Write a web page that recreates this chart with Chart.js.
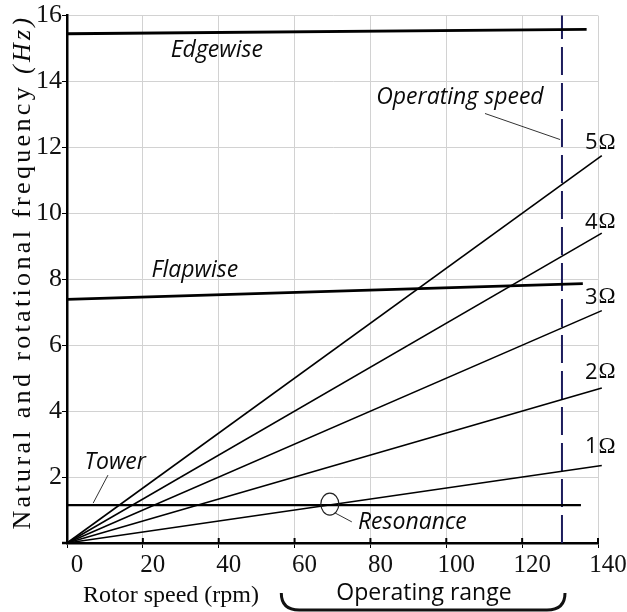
<!DOCTYPE html>
<html>
<head>
<meta charset="utf-8">
<script src="https://cdn.jsdelivr.net/npm/chart.js@4"></script>
<style>
  body { margin: 0; background: #fff; }
  .box { width: 627px; height: 612px; }
</style>
</head>
<body>
<div class="box"><canvas id="myChart"></canvas></div>
<script>
// valores
const rotorSpeed = [0, 141];
const freq1P = [0, 2.35];
const freq2P = [0, 4.7];
const freq3P = [0, 7.05];
const freq4P = [0, 9.4];
const freq5P = [0, 11.75];
const harmonicLabels = ["1", "2", "3", "4", "5"];

const edgewiseSpeed = [0, 137];
const edgewiseFreq = [15.45, 15.58];
const flapwiseSpeed = [0, 136];
const flapwiseFreq = [7.39, 7.87];
const towerSpeed = [0, 135.5];
const towerFreq = [1.15, 1.15];

const operatingSpeed = 130.5;
const freqRange = [0, 16];

const xTicks = [0, 20, 40, 60, 80, 100, 120, 140];
const yTicks = [0, 2, 4, 6, 8, 10, 12, 14, 16];

const toPoints = (xs, ys) => xs.map((v, i) => ({ x: v, y: ys[i] }));

const harmonics = [freq1P, freq2P, freq3P, freq4P, freq5P];

const lineSet = (data, width, color = "#000", dash = []) => ({
  data,
  borderColor: color,
  borderWidth: width,
  borderDash: dash,
  pointRadius: 0,
  fill: false,
  clip: false,
  tension: 0,
});

const serif = "'Liberation Serif', 'Times New Roman', serif";
const sans = "'Open Sans', 'Noto Sans', sans-serif";

const text = (c, str, x, y, font, align = "center", base = "middle") => {
  c.font = font;
  c.textAlign = align;
  c.textBaseline = base;
  c.fillStyle = "#0a0a0a";
  c.fillText(str, x, y);
};

const line = (c, x1, y1, x2, y2, w = 1, color = "#333") => {
  c.beginPath();
  c.moveTo(x1, y1);
  c.lineTo(x2, y2);
  c.lineWidth = w;
  c.strokeStyle = color;
  c.stroke();
};

// textos, setas e chave desenhados por cima
const annotations = {
  id: "annotations",
  afterDraw(chart) {
    const c = chart.ctx;
    const { x, y } = chart.scales;
    const px = (v) => x.getPixelForValue(v);
    const py = (v) => y.getPixelForValue(v);
    c.save();

    // tracinhos do eixo x para cima
    const base = py(0);
    xTicks.forEach((v) => line(c, px(v), base, px(v), base - 5, 2, "#000"));
    line(c, px(0) - 5, base, px(0), base, 2.5, "#000");

    const italic = "italic 23px " + sans;
    text(c, "Edgewise", px(39.5), py(14.94), italic);
    text(c, "Flapwise", px(33.7), py(8.27), italic);
    text(c, "Operating speed", px(103.6), py(13.52), italic);
    line(c, px(110.2), py(13.03), px(130), py(12.24));
    text(c, "Tower", px(12.7), py(2.45), italic);
    line(c, px(10.8), py(2.06), px(6.9), py(1.21));
    text(c, "Resonance", px(76.7), py(0.61), italic, "left");
    line(c, px(70.7), py(0.91), px(75.1), py(0.64));
    c.beginPath();
    c.ellipse(px(69.3), py(1.18), 9, 11, 0, 0, Math.PI * 2);
    c.lineWidth = 1.2;
    c.strokeStyle = "#222";
    c.stroke();

    // rotulos dos harmonicos
    const labelY = [2.91, 5.18, 7.45, 9.73, 12.15];
    harmonicLabels.forEach((n, i) => {
      const lx = px(140.4);
      const ly = py(labelY[i]);
      text(c, n, lx - 2, ly, "22px " + sans, "right");
      text(c, "\u03A9", lx - 1, ly, "23px " + serif, "left");
    });

    // titulo do eixo y
    const title = "Natural and rotational frequency ";
    const unit = "(Hz)";
    const fs = "26px ";
    c.font = fs + serif;
    const w1 = c.measureText(title).width;
    c.font = "italic " + fs + serif;
    const w2 = c.measureText(unit).width;
    const total = 515;
    const gap = (total - w1 - w2) / (title.length + unit.length);
    c.translate(30, 272);
    c.rotate(-Math.PI / 2);
    c.letterSpacing = gap + "px";
    text(c, title, -total / 2, 0, fs + serif, "left", "alphabetic");
    const w1s = c.measureText(title).width;
    text(c, unit, -total / 2 + w1s, 0, "italic " + fs + serif, "left", "alphabetic");
    c.restore();

    c.save();
    // titulo do eixo x
    text(c, "Rotor speed (rpm)", 83, 602, "24px " + serif, "left", "alphabetic");

    // chave da faixa de operacao
    const xl = px(56.5);
    const xr = px(131.3);
    c.beginPath();
    c.moveTo(xl, 593);
    c.quadraticCurveTo(xl, 610, xl + 18, 610);
    c.lineTo(xr - 18, 610);
    c.quadraticCurveTo(xr, 610, xr, 593);
    c.lineWidth = 3;
    c.strokeStyle = "#111";
    c.stroke();
    text(c, "Operating range", px(94.1), 593, "23px " + sans);
    c.restore();
  },
};

const ctx = document.getElementById("myChart");

const grafico = new Chart(ctx, {
  type: "line",
  data: {
    datasets: [
      ...harmonics.map((h) => lineSet(toPoints(rotorSpeed, h), 1.6)),
      lineSet(toPoints(edgewiseSpeed, edgewiseFreq), 2.8),
      lineSet(toPoints(flapwiseSpeed, flapwiseFreq), 2.8),
      lineSet(toPoints(towerSpeed, towerFreq), 2.4),
      lineSet(
        toPoints([operatingSpeed, operatingSpeed], freqRange),
        2,
        "#1c1c5c",
        [28, 8]
      ),
    ],
  },
  options: {
    responsive: true,
    maintainAspectRatio: false,
    animation: false,
    layout: { padding: { top: 15, right: 29, left: 0, bottom: 0 } },
    plugins: {
      legend: { display: false },
      tooltip: { enabled: false },
    },
    scales: {
      x: {
        type: "linear",
        min: xTicks[0],
        max: xTicks[xTicks.length - 1],
        afterBuildTicks: (scale) => {
          scale.ticks = xTicks.map((v) => ({ value: v }));
        },
        afterFit: (scale) => {
          scale.height = 69;
        },
        ticks: {
          color: "#111",
          font: { family: serif, size: 25 },
          padding: 2,
          labelOffset: 10,
          maxRotation: 0,
        },
        grid: {
          color: "#d2d2d2",
          lineWidth: 1,
          tickColor: "#000",
          tickLength: 5,
        },
        border: { color: "#000", width: 2.5 },
      },
      y: {
        type: "linear",
        min: yTicks[0],
        max: yTicks[yTicks.length - 1],
        afterBuildTicks: (scale) => {
          scale.ticks = yTicks.map((v) => ({ value: v }));
        },
        afterFit: (scale) => {
          scale.width = 67;
        },
        ticks: {
          color: "#111",
          font: { family: serif, size: 26 },
          padding: 0,
          callback: (v) => (v === 0 ? "" : v),
        },
        grid: {
          color: "#d2d2d2",
          lineWidth: 1,
          tickColor: "#000",
          tickLength: 5,
        },
        border: { color: "#000", width: 2.5 },
      },
    },
  },
  plugins: [annotations],
});
</script>
</body>
</html>
